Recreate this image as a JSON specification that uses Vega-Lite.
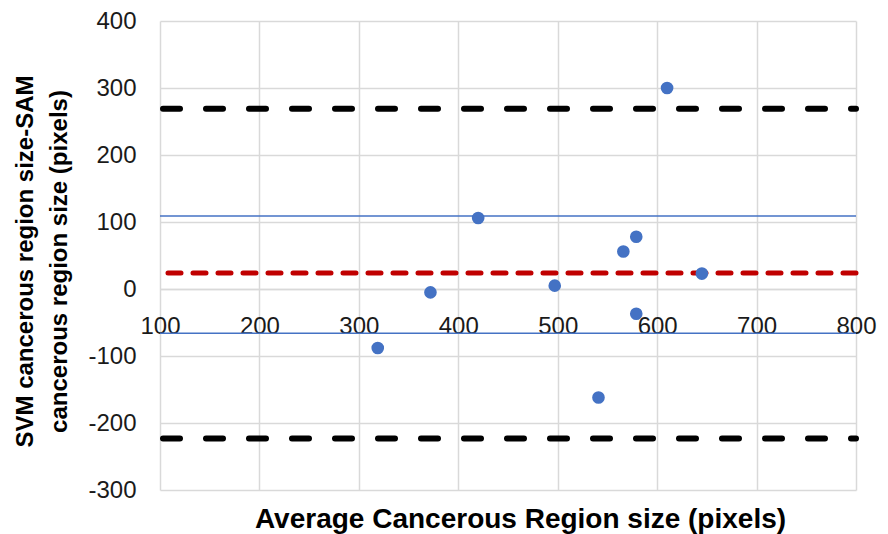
{
  "$schema": "https://vega.github.io/schema/vega-lite/v6.json",
  "autosize": "none",
  "width": 696,
  "height": 469,
  "padding": {"left": 160, "top": 21, "right": 32, "bottom": 44},
  "background": "white",
  "config": {
    "view": {"stroke": null},
    "font": "Liberation Sans"
  },
  "datasets": {
    "points": [
      {"avg": 319, "diff": -88},
      {"avg": 372, "diff": -5},
      {"avg": 420, "diff": 106},
      {"avg": 497, "diff": 5},
      {"avg": 541, "diff": -162},
      {"avg": 566, "diff": 56},
      {"avg": 579, "diff": 78},
      {"avg": 579, "diff": -37},
      {"avg": 610, "diff": 300},
      {"avg": 645, "diff": 23}
    ],
    "lines": [
      {"kind": "loa", "value": 269},
      {"kind": "loa", "value": -223},
      {"kind": "mean", "value": 24},
      {"kind": "ci", "value": 109},
      {"kind": "ci", "value": -66}
    ]
  },
  "layer": [
    {
      "data": {"name": "lines"},
      "transform": [{"filter": "datum.kind === 'ci'"}],
      "mark": {"type": "rule", "color": "#4472C4", "strokeWidth": 1.5},
      "encoding": {
        "y": {"field": "value", "type": "quantitative", "scale": {"domain": [-300, 400], "nice": false}}
      }
    },
    {
      "data": {"name": "lines"},
      "transform": [{"filter": "datum.kind === 'loa'"}],
      "mark": {"type": "rule", "color": "#000000", "strokeWidth": 6, "strokeDash": [17, 26], "strokeCap": "round", "strokeDashOffset": 12},
      "encoding": {
        "y": {"field": "value", "type": "quantitative"}
      }
    },
    {
      "data": {"name": "lines"},
      "transform": [{"filter": "datum.kind === 'mean'"}],
      "mark": {"type": "rule", "color": "#C00000", "strokeWidth": 5, "strokeDash": [13, 12], "strokeCap": "round"},
      "encoding": {
        "y": {"field": "value", "type": "quantitative"}
      }
    },
    {
      "data": {"name": "points"},
      "mark": {"type": "circle", "color": "#4472C4", "opacity": 1, "size": 160},
      "encoding": {
        "x": {
          "field": "avg", "type": "quantitative",
          "scale": {"domain": [100, 800], "nice": false},
          "axis": {
            "title": "Average Cancerous Region size (pixels)",
            "values": [100, 200, 300, 400, 500, 600, 700, 800],
            "offset": -201,
            "domain": true, "domainColor": "#d9d9d9", "domainWidth": 1.5,
            "ticks": false, "tickSize": 0,
            "grid": true, "gridColor": "#d9d9d9", "gridWidth": 1.5,
            "labelFontSize": 24, "labelColor": "#1a1a1a", "labelPadding": 25,
            "labelFlush": false, "labelOverlap": false,
            "labelFont": "Liberation Sans",
            "titleFontSize": 28, "titleFontWeight": "bold", "titleColor": "#000000",
            "titleFont": "Liberation Sans",
            "titleX": 360, "titleY": 230, "titleBaseline": "middle"
          }
        },
        "y": {
          "field": "diff", "type": "quantitative",
          "scale": {"domain": [-300, 400], "nice": false},
          "axis": {
            "title": ["SVM cancerous region size-SAM", "cancerous region size (pixels)"],
            "values": [-300, -200, -100, 0, 100, 200, 300, 400],
            "labelExpr": "'' + datum.value",
            "domain": false,
            "ticks": false, "tickSize": 0,
            "grid": true, "gridColor": "#d9d9d9", "gridWidth": 1.5,
            "labelFontSize": 24, "labelColor": "#1a1a1a", "labelPadding": 24,
            "labelFont": "Liberation Sans",
            "titleFontSize": 24, "titleFontWeight": "bold", "titleColor": "#000000",
            "titleFont": "Liberation Sans", "titleLineHeight": 34,
            "titleAngle": -90, "titleAlign": "center", "titleBaseline": "middle",
            "titleX": -135, "titleY": 240
          }
        }
      }
    }
  ]
}
